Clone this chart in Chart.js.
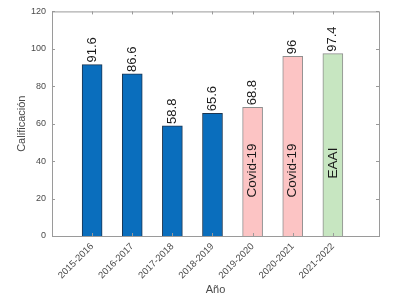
<!DOCTYPE html>
<html lang="es">
<head>
<meta charset="UTF-8">
<title>Calificación por año</title>
<script src="https://cdn.jsdelivr.net/npm/chart.js"></script>
<style>
  html, body { margin: 0; padding: 0; background: #fff; }
  #wrap { width: 399px; height: 298px; }
</style>
</head>
<body>
<div id="wrap"><canvas id="myChart" width="399" height="298"></canvas></div>
<script>
// chart data
const years = ['2015-2016', '2016-2017', '2017-2018', '2018-2019', '2019-2020', '2020-2021', '2021-2022'];
const scores = [91.6, 86.6, 58.8, 65.6, 68.8, 96, 97.4];
const notes = ['', '', '', '', 'Covid-19', 'Covid-19', 'EAAI'];
const noteY = [0, 0, 0, 0, 35, 35, 39];
const fills = ['#0a6ebd', '#0a6ebd', '#0a6ebd', '#0a6ebd', '#fcc4c4', '#fcc4c4', '#c7e6c1'];
const edges = ['#1c3550', '#1c3550', '#1c3550', '#1c3550', '#8f8f8f', '#8f8f8f', '#8f8f8f'];

const font = 'Arial, "Liberation Sans", sans-serif';
const axisColor = '#9a9a9a';

// box round the plot with small inward ticks, like the matlab figure
const boxPlugin = {
    id: 'box',
    afterDraw(chart) {
        const { ctx, chartArea: a, scales } = chart;
        ctx.save();
        ctx.strokeStyle = axisColor;
        ctx.lineWidth = 1;
        ctx.strokeRect(a.left + 0.5, a.top + 0.5, a.right - a.left, a.bottom - a.top);
        ctx.beginPath();
        scales.x.ticks.forEach(t => {
            const x = Math.round(scales.x.getPixelForValue(t.value)) + 0.5;
            ctx.moveTo(x, a.top); ctx.lineTo(x, a.top + 3);
            ctx.moveTo(x, a.bottom); ctx.lineTo(x, a.bottom - 3);
        });
        scales.y.ticks.forEach(t => {
            const y = Math.round(scales.y.getPixelForValue(t.value)) + 0.5;
            ctx.moveTo(a.left, y); ctx.lineTo(a.left + 3, y);
            ctx.moveTo(a.right, y); ctx.lineTo(a.right - 3, y);
        });
        ctx.stroke();
        ctx.restore();
    }
};

// values above bars and notes inside, both written upwards
const labelPlugin = {
    id: 'barLabels',
    afterDatasetsDraw(chart) {
        const { ctx, scales } = chart;
        const meta = chart.getDatasetMeta(0);
        ctx.save();
        ctx.fillStyle = '#1a1a1a';
        meta.data.forEach((bar, i) => {
            ctx.save();
            ctx.translate(bar.x, bar.y - 2);
            ctx.rotate(-Math.PI / 2);
            ctx.font = '13px ' + font;
            ctx.textAlign = 'left';
            ctx.textBaseline = 'middle';
            ctx.fillText(String(scores[i]), 0, 0);
            ctx.restore();
            if (notes[i]) {
                ctx.save();
                ctx.translate(bar.x, scales.y.getPixelForValue(noteY[i]));
                ctx.rotate(-Math.PI / 2);
                ctx.font = '13.5px ' + font;
                ctx.textAlign = 'center';
                ctx.textBaseline = 'middle';
                ctx.fillText(notes[i], 0, 0);
                ctx.restore();
            }
        });
        ctx.restore();
    }
};

const ctx = document.getElementById('myChart').getContext('2d');
new Chart(ctx, {
    type: 'bar',
    data: {
        datasets: [{
            data: scores.map((v, i) => ({ x: i + 1, y: v })),
            backgroundColor: fills,
            borderColor: edges,
            borderWidth: 1,
            barThickness: 20
        }]
    },
    options: {
        responsive: false,
        animation: false,
        layout: { padding: { left: 0, right: 20, top: 10, bottom: 0 } },
        plugins: { legend: { display: false }, tooltip: { enabled: false } },
        scales: {
            x: {
                type: 'linear',
                offset: false,
                min: 0,
                max: 8.15,
                afterBuildTicks: s => { s.ticks = years.map((_, i) => ({ value: i + 1 })); },
                afterFit: s => { s.height = 62; },
                grid: { display: false, drawTicks: false },
                border: { display: false },
                ticks: {
                    autoSkip: false,
                    minRotation: 45,
                    maxRotation: 45,
                    padding: 5,
                    color: '#4a4a4a',
                    font: { family: font, size: 9.5 },
                    callback: v => years[v - 1] || ''
                },
                title: {
                    display: true,
                    text: 'Año',
                    color: '#4a4a4a',
                    font: { family: font, size: 11 },
                    padding: { top: 0, bottom: 1 }
                }
            },
            y: {
                min: 0,
                max: 120,
                afterFit: s => { s.width = 52; },
                grid: { display: false, drawTicks: false },
                border: { display: false },
                ticks: {
                    stepSize: 20,
                    padding: 6,
                    color: '#4a4a4a',
                    font: { family: font, size: 9 }
                },
                title: {
                    display: true,
                    text: 'Calificación',
                    color: '#4a4a4a',
                    font: { family: font, size: 11 },
                    padding: { top: 15, bottom: 0 }
                }
            }
        }
    },
    plugins: [boxPlugin, labelPlugin]
});
</script>
</body>
</html>
